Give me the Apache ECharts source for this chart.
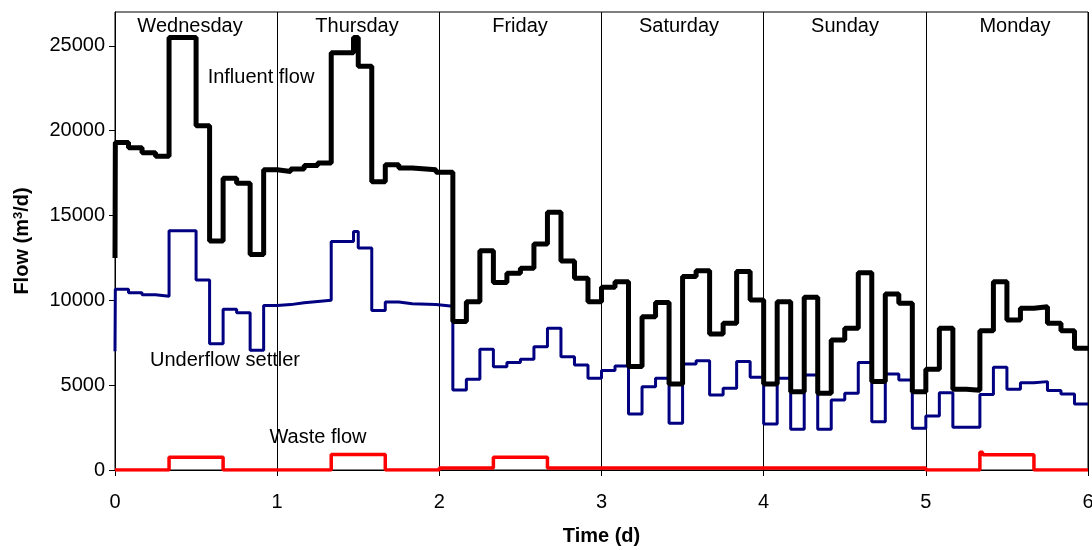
<!DOCTYPE html>
<html>
<head>
<meta charset="utf-8">
<script src="https://cdn.jsdelivr.net/npm/echarts@6/dist/echarts.min.js"></script>
<style>
html,body{margin:0;padding:0;background:#fff;}
#chart{width:1092px;height:550px;}
</style>
</head>
<body>
<div id="chart"></div>
<script>
// ---- data (time in hours, flow in m3/d); each entry = [hour when level starts, level]
const dayNames = ['Wednesday', 'Thursday', 'Friday', 'Saturday', 'Sunday', 'Monday'];
const xTicks = [0, 1, 2, 3, 4, 5, 6];
const yTicks = [0, 5000, 10000, 15000, 20000, 25000];

const influentWed = [[0,12500],[0.05,19300],[2,19000],[4,18700],[6,18500],[8,25500],[12,20300],[14,13500],[16,17200],[18,16900],[20,12700],[22,17700]];
const influentThu = [[24,17600],[26,17750],[28,17950],[30,18100],[32,24600],[35.3,25500],[36,23800],[38,17000],[40,18000],[42,17800],[44,17700],[47.5,17550]];
const influentFri = [[50,8750],[52,9925],[54,12930],[56,11050],[58,11600],[60,11890],[62,13325],[64,15190],[66,12320],[68,11300],[70,9925]];
const influentSat = [[72,10770],[74,11100],[76,6100],[78,9040],[80,9870],[82,5070],[84,11400],[86,11750],[88,8020],[90,8650],[92,11700],[94,10020]];
const influentSun = [[96,5070],[98,9925],[100,4620],[102,10180],[104,4520],[106,7665],[108,8350],[110,11630],[112,5210],[114,10380],[116,9830],[118,4620]];
const influentMon = [[120,5935],[122,8350],[124,4760],[126,4700],[128,8215],[130,11100],[132,8845],[134,9530],[136,9630],[138,8650],[140,8215],[142,7175],[144,7175]];

const underflowWed = [[0,7000],[0.05,10650],[2,10450],[4,10330],[6,10240],[8,14100],[12,11200],[14,7450],[16,9470],[18,9270],[20,7060],[22,9700]];
const underflowThu = [[24,9750],[26,9860],[28,9940],[30,10000],[32,13470],[35.3,14060],[36,13080],[38,9410],[40,9900],[42,9800],[44,9750],[47.5,9650]];
const underflowFri = [[50,4720],[52,5350],[54,7115],[56,6090],[58,6330],[60,6525],[62,7270],[64,8350],[66,6680],[68,6190],[70,5405]];
const underflowSat = [[72,5860],[74,6130],[76,3300],[78,4910],[80,5405],[82,2750],[84,6250],[86,6445],[88,4420],[90,4815],[92,6390],[94,5465]];
const underflowSun = [[96,2710],[98,5405],[100,2400],[102,5600],[104,2400],[106,4130],[108,4520],[110,6330],[112,2850],[114,5660],[116,5300],[118,2460]];
const underflowMon = [[120,3185],[122,4560],[124,2515],[128,4450],[130,6055],[132,4755],[134,5150],[136,5210],[138,4680],[140,4480],[142,3890],[144,3890]];

const wasteFlow = [[0,0],[8,750],[16,0],[32,920],[40,0],[48,120],[56,750],[64,120],[120,0],[128,1050],[128.4,900],[136,0],[144,0]];

const seriesLabels = ['Influent flow', 'Underflow settler', 'Waste flow'];

// ---- build
function toDays(list) { return list.map(p => [p[0] / 24, p[1]]); }
const influent = toDays([].concat(influentWed, influentThu, influentFri, influentSat, influentSun, influentMon));
const underflow = toDays([].concat(underflowWed, underflowThu, underflowFri, underflowSat, underflowSun, underflowMon));
const waste = toDays(wasteFlow);
function closeAtEnd(arr) {
  const last = arr[arr.length - 1];
  if (last[0] < 6) arr.push([6, last[1]]);
  return arr;
}
closeAtEnd(influent); closeAtEnd(underflow); closeAtEnd(waste);

const FONT = '"Liberation Sans", Arial, sans-serif';
const FS = 20;
const chart = echarts.init(document.getElementById('chart'), null, {renderer: 'canvas'});

const dayLabelPos = [190, 357, 520, 679, 845, 1015];
const seriesLabelPos = [[261, 77], [225, 360], [318, 437]];

const graphics = [];
dayNames.forEach((d, i) => graphics.push({
  type: 'text', x: dayLabelPos[i], y: 26, z: 100,
  style: {text: d, font: FS + 'px ' + FONT, fill: '#000', textAlign: 'center', textVerticalAlign: 'middle'}
}));
seriesLabels.forEach((s, i) => graphics.push({
  type: 'text', x: seriesLabelPos[i][0], y: seriesLabelPos[i][1], z: 100,
  style: {text: s, font: FS + 'px ' + FONT, fill: '#000', textAlign: 'center', textVerticalAlign: 'middle'}
}));

chart.setOption({
  animation: false,
  backgroundColor: '#fff',
  grid: {left: 115, right: 4, top: 12, bottom: 80, containLabel: false, outerBoundsMode: 'none',
         show: true, borderColor: '#000', borderWidth: 1, backgroundColor: 'transparent'},
  xAxis: {
    type: 'value', min: 0, max: 6, interval: 1,
    name: 'Time (d)', nameLocation: 'middle', nameGap: 56,
    nameTextStyle: {fontFamily: FONT, fontSize: FS, fontWeight: 'bold', color: '#000'},
    axisLine: {show: true, onZero: false, lineStyle: {color: '#000', width: 1}},
    axisTick: {show: true, inside: false, length: 6, lineStyle: {color: '#000'}, customValues: xTicks},
    axisLabel: {fontFamily: FONT, fontSize: FS, color: '#000', margin: 22, customValues: xTicks,
                formatter: v => String(v)},
    splitLine: {show: true, lineStyle: {color: '#000', width: 1}}
  },
  yAxis: {
    type: 'value', min: 0, max: 27000, interval: 5000,
    name: 'Flow (m{sup|3}/d)', nameLocation: 'middle', nameRotate: 90, nameGap: 82,
    nameTextStyle: {fontFamily: FONT, fontSize: FS, fontWeight: 'bold', color: '#000',
      rich: {sup: {fontFamily: FONT, fontSize: 13, fontWeight: 'bold', color: '#000', verticalAlign: 'top', padding: [0, 0, 8, 0]}}},
    axisLine: {show: true, lineStyle: {color: '#000', width: 1}},
    axisTick: {show: true, inside: false, length: 6, lineStyle: {color: '#000'}, customValues: yTicks},
    axisLabel: {fontFamily: FONT, fontSize: FS, color: '#000', margin: 10, customValues: yTicks,
                formatter: v => String(v)},
    splitLine: {show: false}
  },
  series: [
    {type: 'line', name: seriesLabels[1], data: underflow, step: 'end', showSymbol: false, symbol: 'none',
     lineStyle: {color: '#000080', width: 3}, z: 3},
    {type: 'line', name: seriesLabels[0], data: influent, step: 'end', showSymbol: false, symbol: 'none',
     lineStyle: {color: '#000000', width: 5}, z: 4},
    {type: 'line', name: seriesLabels[2], data: waste, step: 'end', showSymbol: false, symbol: 'none',
     lineStyle: {color: '#FF0000', width: 3.5}, z: 5}
  ],
  graphic: graphics
});
</script>
</body>
</html>
